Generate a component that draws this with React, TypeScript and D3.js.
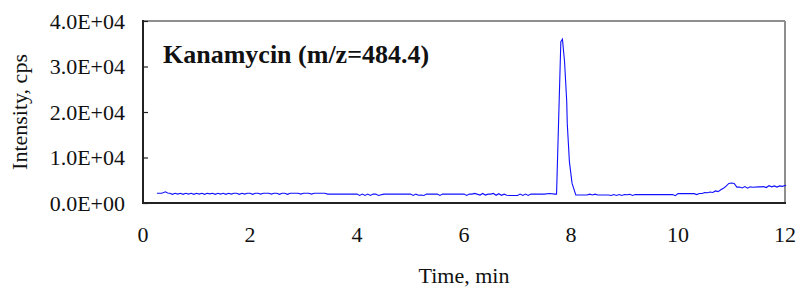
import React, { useEffect, useRef } from 'react';
import * as d3 from 'd3';

// retention time (min) and intensity (cps)
const times = [
  0.26, 0.35, 0.42, 0.46, 0.5, 0.55, 0.6, 0.65, 0.7, 0.75, 0.8, 0.85, 0.9, 0.95, 1.0, 1.05, 1.1, 1.15,
  1.2, 1.25, 1.3, 1.35, 1.4, 1.45, 1.5, 1.55, 1.6, 1.65, 1.7, 1.75, 1.8, 1.85, 1.9, 1.95, 2.0, 2.05,
  2.1, 2.15, 2.2, 2.25, 2.3, 2.35, 2.4, 2.45, 2.5, 2.55, 2.6, 2.65, 2.7, 2.75, 2.8, 2.85, 2.9, 2.95,
  3.0, 3.05, 3.1, 3.15, 3.2, 3.3, 3.4, 3.45, 3.5, 3.55, 3.6, 3.8, 4.0, 4.05, 4.1, 4.15, 4.2, 4.25,
  4.3, 4.35, 4.4, 4.5, 4.6, 4.8, 5.0, 5.05, 5.1, 5.15, 5.2, 5.25, 5.3, 5.4, 5.5, 5.55, 5.6, 5.7,
  5.8, 5.9, 6.0, 6.05, 6.1, 6.15, 6.2, 6.3, 6.35, 6.4, 6.45, 6.5, 6.55, 6.6, 6.65, 6.7, 6.75, 6.8,
  6.85, 6.9, 7.0, 7.05, 7.1, 7.15, 7.2, 7.25, 7.3, 7.4, 7.5, 7.6, 7.7, 7.73, 7.81, 7.84, 7.88,
  7.92, 7.93, 7.97, 8.02, 8.09, 8.2, 8.3, 8.35, 8.4, 8.45, 8.5, 8.6, 8.7, 8.75, 8.8, 8.85, 8.9, 8.95,
  9.0, 9.05, 9.1, 9.15, 9.2, 9.3, 9.4, 9.5, 9.6, 9.7, 9.8, 9.9, 9.95, 10.0, 10.1, 10.2, 10.3, 10.35,
  10.4, 10.45, 10.5, 10.55, 10.6, 10.65, 10.7, 10.75, 10.8, 10.85, 10.9, 10.95, 11.0, 11.05, 11.1,
  11.15, 11.2, 11.25, 11.3, 11.35, 11.4, 11.5, 11.55, 11.6, 11.65, 11.7, 11.75, 11.8, 11.85, 11.9,
  11.95, 12.02,
];

const intensity = [
  2150, 2150, 2450, 2200, 2150, 1900, 2150, 1950, 2150, 1900, 2150, 1950, 2150, 1900, 2150, 1950, 2150, 1900,
  2150, 2000, 2150, 1900, 2150, 1950, 2150, 1900, 2150, 1950, 2150, 2150, 1900, 2150, 1950, 2150, 2150, 1900,
  2150, 2150, 1950, 2150, 2150, 2150, 1950, 2150, 2150, 1900, 2150, 2150, 1900, 2150, 2150, 2150, 2150, 1950,
  2150, 2150, 2150, 1950, 2150, 2150, 2150, 1950, 1950, 1950, 1950, 1950, 1950, 1650, 1950, 1650, 1950, 1650,
  1950, 1950, 1650, 1950, 1950, 1950, 1950, 1650, 1950, 1700, 1750, 1650, 1950, 1950, 1950, 1650, 1950, 1950,
  1950, 1950, 1950, 1650, 1950, 1950, 2100, 1750, 2100, 1750, 1950, 1950, 2100, 1700, 2050, 1700, 1950, 1700,
  1650, 1650, 1650, 1950, 1650, 1950, 1650, 1950, 1950, 1950, 1950, 2100, 1950, 1950, 35450, 36000, 31000,
  22300, 17500, 9100, 4300, 1750, 1750, 1750, 1950, 1750, 1950, 1750, 1750, 1750, 1650, 1850, 1650, 1850, 1650,
  1850, 1800, 1900, 1650, 1850, 1850, 1850, 1850, 1850, 1850, 1850, 1850, 1600, 2050, 2050, 2050, 2050, 1850,
  2100, 2100, 2300, 2250, 2400, 2300, 2650, 2500, 2900, 3250, 3700, 4300, 4400, 4300, 3500,
  3500, 3300, 3600, 3250, 3550, 3450, 3550, 3550, 3600, 3400, 3800, 3550, 3750, 3500, 3750,
  3650, 3900,
];

const xTicks = [0, 2, 4, 6, 8, 10, 12];
const yTicks = [0, 10000, 20000, 30000, 40000];

const title = 'Kanamycin (m/z=484.4)';
const xLabel = 'Time, min';
const yLabel = 'Intensity, cps';

const W = 799;
const H = 289;

const App: React.FC = () => {
  const svgRef = useRef<SVGSVGElement>(null);

  useEffect(() => {
    if (!svgRef.current) return;
    const svg = d3.select(svgRef.current);
    svg.selectAll('*').remove();

    const left = 143, right = 785, top = 21, bottom = 203;
    const font = "'Liberation Serif', 'DejaVu Serif', serif";

    const x = d3.scaleLinear().domain([0, 12]).range([left, right]);
    const y = d3.scaleLinear().domain([0, 40000]).range([bottom, top]);

    // frame: dark left/bottom, grey top/right
    svg.append('line').attr('x1', left).attr('x2', right).attr('y1', top).attr('y2', top)
      .attr('stroke', '#8e8e8e').attr('stroke-width', 2);
    svg.append('line').attr('x1', right).attr('x2', right).attr('y1', top).attr('y2', bottom)
      .attr('stroke', '#8e8e8e').attr('stroke-width', 2);

    // y axis with inward ticks
    const yAxis = svg.append('g')
      .attr('transform', `translate(${left},0)`)
      .call(d3.axisRight(y).tickValues(yTicks).tickSize(5).tickFormat(() => ''));
    yAxis.select('.domain').remove();
    yAxis.selectAll('.tick line').attr('stroke', '#222').attr('stroke-width', 1.2);

    svg.selectAll('.ylab')
      .data(yTicks)
      .enter()
      .append('text')
      .attr('class', 'ylab')
      .attr('x', 125)
      .attr('y', d => y(d))
      .attr('dy', '0.35em')
      .attr('text-anchor', 'end')
      .style('font-family', font)
      .style('font-size', '22px')
      .attr('fill', '#111')
      .text(d => (d === 0 ? '0.0E+00' : `${(d / 10000).toFixed(1)}E+04`));

    // x tick labels, no tick marks
    svg.selectAll('.xlab')
      .data(xTicks)
      .enter()
      .append('text')
      .attr('class', 'xlab')
      .attr('x', d => x(d))
      .attr('y', 241.5)
      .attr('text-anchor', 'middle')
      .style('font-family', font)
      .style('font-size', '22px')
      .attr('fill', '#111')
      .text(d => String(d));

    // trace
    const pts: [number, number][] = times.map((t, i) => [t, intensity[i]]);
    const line = d3.line<[number, number]>()
      .x(d => x(d[0]))
      .y(d => y(d[1]))
      .curve(d3.curveLinear);
    svg.append('path')
      .datum(pts)
      .attr('d', line)
      .attr('fill', 'none')
      .attr('stroke', '#1010ff')
      .attr('stroke-width', 1.1);

    svg.append('line').attr('x1', left).attr('x2', left).attr('y1', top - 1).attr('y2', bottom + 1)
      .attr('stroke', '#222').attr('stroke-width', 2);
    svg.append('line').attr('x1', left - 1).attr('x2', right + 1).attr('y1', bottom).attr('y2', bottom)
      .attr('stroke', '#222').attr('stroke-width', 2);

    // title
    svg.append('text')
      .attr('x', 163)
      .attr('y', 63)
      .style('font-family', font)
      .style('font-size', '26px')
      .style('font-weight', 'bold')
      .attr('fill', '#111')
      .text(title);

    // axis titles
    svg.append('text')
      .attr('x', (left + right) / 2)
      .attr('y', 283)
      .attr('text-anchor', 'middle')
      .style('font-family', font)
      .style('font-size', '22px')
      .attr('fill', '#111')
      .text(xLabel);

    svg.append('text')
      .attr('transform', 'translate(27,112) rotate(-90)')
      .attr('text-anchor', 'middle')
      .style('font-family', font)
      .style('font-size', '22px')
      .attr('fill', '#111')
      .text(yLabel);
  }, []);

  return (
    <svg
      ref={svgRef}
      width={W}
      height={H}
      style={{ position: 'absolute', left: 0, top: 0, background: '#fff' }}
    />
  );
};

export default App;
